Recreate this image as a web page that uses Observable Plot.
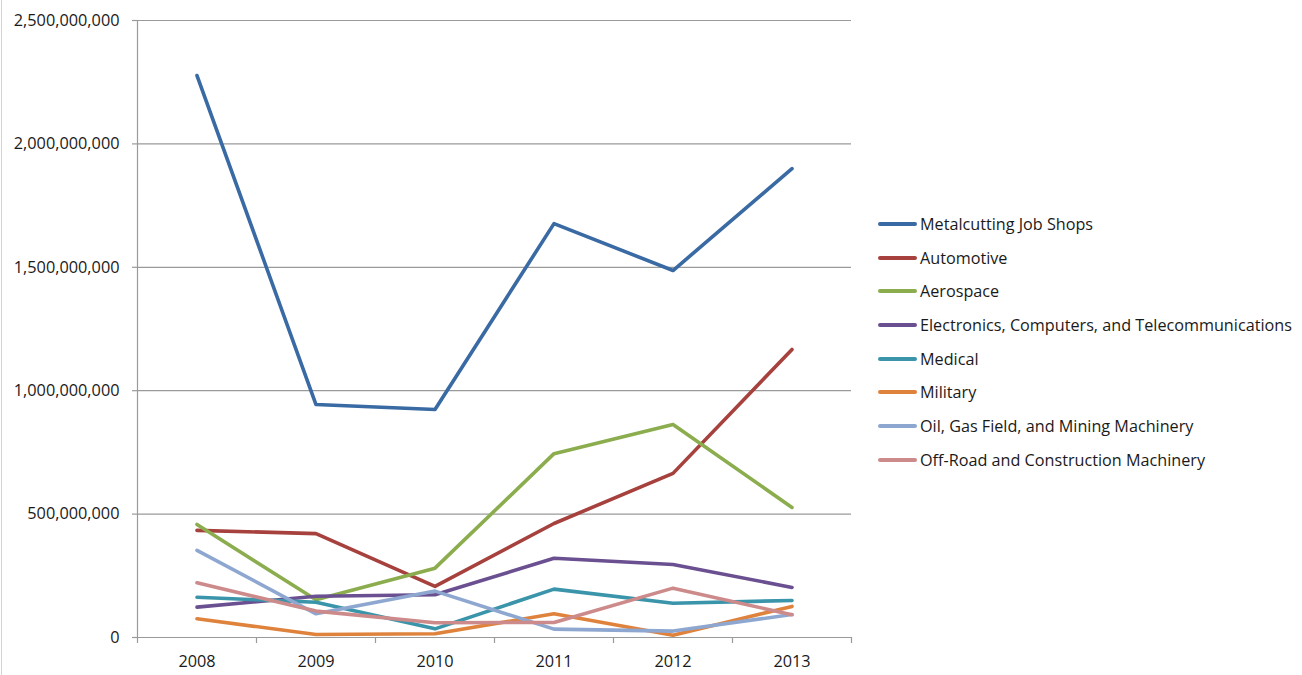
<!DOCTYPE html>
<html>
<head>
<meta charset="utf-8">
<script src="https://cdn.jsdelivr.net/npm/d3@7"></script>
<script src="https://cdn.jsdelivr.net/npm/@observablehq/plot@0.6"></script>
<style>
  html, body { margin: 0; padding: 0; background: #fff; }
  #wrap { position: relative; width: 1302px; height: 675px; display: flex; font-family: "Open Sans", sans-serif; }
  #edge { position: absolute; left: 1px; top: 0; width: 1px; height: 675px; background: #d4d4d4; }
  #legend { position: absolute; left: 878px; top: 207px; font-size: 16.2px; color: #1a1a1a; }
  .row { display: flex; align-items: center; height: 33.7px; white-space: nowrap; }
  .sw { width: 39px; height: 4px; border-radius: 2px; margin-right: 3px; }
</style>
</head>
<body>
<div id="wrap"><div id="edge"></div><div id="chart"></div><div id="legend"></div></div>
<script>
const years = [2008, 2009, 2010, 2011, 2012, 2013];
const series = [
  "Metalcutting Job Shops",
  "Automotive",
  "Aerospace",
  "Electronics, Computers, and Telecommunications",
  "Medical",
  "Military",
  "Oil, Gas Field, and Mining Machinery",
  "Off-Road and Construction Machinery"
];
const colors = ["#3A6AA4", "#A6413D", "#8BAD4E", "#6A5090", "#3A94AA", "#DE823C", "#8EA7D0", "#CD8A8A"];
const metalcutting = [2277e6, 944e6, 924e6, 1677e6, 1487e6, 1900e6];
const automotive   = [434e6, 421e6, 207e6, 462e6, 665e6, 1167e6];
const aerospace    = [458e6, 153e6, 281e6, 745e6, 863e6, 527e6];
const electronics  = [123e6, 167e6, 173e6, 321e6, 296e6, 203e6];
const medical      = [163e6, 143e6, 35e6, 196e6, 139e6, 150e6];
const military     = [76e6, 12e6, 15e6, 96e6, 9e6, 126e6];
const oilGas       = [353e6, 96e6, 188e6, 34e6, 26e6, 93e6];
const offRoad      = [222e6, 107e6, 60e6, 61e6, 200e6, 92e6];
const yTicks = [0, 5e8, 1e9, 1.5e9, 2e9, 2.5e9];
const bandEdges = [2007.5, 2008.5, 2009.5, 2010.5, 2011.5, 2012.5, 2013.5];

const allValues = [metalcutting, automotive, aerospace, electronics, medical, military, oilGas, offRoad];
const data = [];
series.forEach((s, i) => years.forEach((y, j) => data.push({series: s, year: y, value: allValues[i][j]})));

const gray = "#9a9a9a";
const chart = Plot.plot({
  width: 860,
  height: 675,
  marginLeft: 137,
  marginRight: 9,
  marginTop: 20,
  marginBottom: 38,
  style: {fontFamily: "'Open Sans', sans-serif", fontSize: "16.3px", color: "#1a1a1a", background: "#fff"},
  x: {domain: [2007.5, 2013.5], axis: null},
  y: {domain: [0, 2.5e9], axis: null},
  color: {domain: series, range: colors},
  marks: [
    Plot.gridY(yTicks, {stroke: gray, strokeOpacity: 1, strokeWidth: 1.2}),
    Plot.axisY(yTicks, {tickSize: 5, tickPadding: 13, stroke: gray, strokeWidth: 1.2, tickFormat: d3.format(","), fill: "#1a1a1a", fontSize: 16.3, label: null}),
    Plot.axisX(bandEdges, {tickSize: 6, tickFormat: () => "", stroke: gray, strokeWidth: 1.2, label: null}),
    Plot.axisX(years, {tickSize: 0, tickPadding: 18, tickFormat: d => String(d), fill: "#1a1a1a", fontSize: 16.3, label: null}),
    Plot.ruleX([2007.5], {stroke: gray, strokeWidth: 1.2}),
    Plot.ruleY([0], {stroke: gray, strokeWidth: 1.2}),
    Plot.line(data, {x: "year", y: "value", z: "series", stroke: "series", strokeWidth: 3.6, strokeLinejoin: "round", strokeLinecap: "round"})
  ]
});
document.getElementById("chart").appendChild(chart);

const legend = document.getElementById("legend");
series.forEach((s, i) => {
  const row = document.createElement("div");
  row.className = "row";
  const sw = document.createElement("div");
  sw.className = "sw";
  sw.style.background = colors[i];
  const t = document.createElement("span");
  t.textContent = s;
  row.appendChild(sw);
  row.appendChild(t);
  legend.appendChild(row);
});
</script>
</body>
</html>
